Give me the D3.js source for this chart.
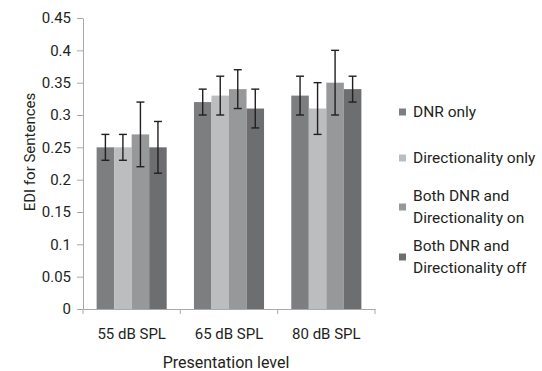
<!DOCTYPE html>
<html><head><meta charset="utf-8">
<script src="https://cdn.jsdelivr.net/npm/d3@7"></script>
<style>body{margin:0;background:#fff}svg{display:block}text{font-family:Roboto,"Liberation Sans",sans-serif;fill:#231f20}</style>
</head><body><svg id="c" width="542" height="371"></svg>
<script>
const categories = ["55 dB SPL", "65 dB SPL", "80 dB SPL"];
const seriesNames = ["DNR only", "Directionality only", "Both DNR and Directionality on", "Both DNR and Directionality off"];
const legendLines = [["DNR only"], ["Directionality only"], ["Both DNR and", "Directionality on"], ["Both DNR and", "Directionality off"]];
const dnrOnly = [0.25, 0.32, 0.33];
const dirOnly = [0.25, 0.33, 0.31];
const bothOn = [0.27, 0.34, 0.35];
const bothOff = [0.25, 0.31, 0.34];
const errDnrOnly = [0.02, 0.02, 0.03];
const errDirOnly = [0.02, 0.03, 0.04];
const errBothOn = [0.05, 0.03, 0.05];
const errBothOff = [0.04, 0.03, 0.02];
const yTicks = [0, 0.05, 0.1, 0.15, 0.2, 0.25, 0.3, 0.35, 0.4, 0.45];
const colors = ["#7d7e80", "#bcbdbf", "#97989a", "#6d6e70"];

const values = [dnrOnly, dirOnly, bothOn, bothOff];
const errs = [errDnrOnly, errDirOnly, errBothOn, errBothOff];

const svg = d3.select("#c");
const L = 83, R = 375, T = 18, B = 309;
const x0 = d3.scaleBand().domain(categories).range([L, R]).paddingInner(0.28).paddingOuter(0.14);
const x1 = d3.scaleBand().domain(d3.range(4)).range([0, x0.bandwidth()]);
const y = d3.scaleLinear().domain([0, 0.45]).range([B, T]);

const data = [];
categories.forEach((c, i) => values.forEach((s, j) => data.push({c, j, v: s[i], e: errs[j][i]})));

svg.append("g").selectAll("rect").data(data).join("rect")
  .attr("x", d => x0(d.c) + x1(d.j)).attr("width", x1.bandwidth())
  .attr("y", d => y(d.v)).attr("height", d => y(0) - y(d.v))
  .attr("fill", d => colors[d.j]);

const eg = svg.append("g").attr("stroke", "#231f20").attr("stroke-width", 1.4);
data.forEach(d => {
  const cx = x0(d.c) + x1(d.j) + x1.bandwidth() / 2;
  eg.append("line").attr("x1", cx).attr("x2", cx).attr("y1", y(d.v + d.e)).attr("y2", y(d.v - d.e));
  eg.append("line").attr("x1", cx - 4).attr("x2", cx + 4).attr("y1", y(d.v + d.e)).attr("y2", y(d.v + d.e));
  eg.append("line").attr("x1", cx - 4).attr("x2", cx + 4).attr("y1", y(d.v - d.e)).attr("y2", y(d.v - d.e));
});

// y axis
const ya = svg.append("g").attr("transform", `translate(${L},0)`)
  .call(d3.axisLeft(y).tickValues(yTicks).tickFormat(d => String(d)).tickSize(6).tickSizeOuter(0));
ya.select(".domain").attr("stroke", "#a7a9ac");
ya.selectAll(".tick line").attr("stroke", "#a7a9ac");
ya.selectAll(".tick text").attr("font-size", 15).attr("x", -12).attr("fill", "#231f20")
  .style("font-family", "Roboto,sans-serif");

// x axis
const xa = svg.append("g").attr("transform", `translate(0,${B})`)
  .call(d3.axisBottom(x0).tickSize(0).tickSizeOuter(0));
xa.select(".domain").attr("stroke", "#a7a9ac");
xa.selectAll(".tick text").attr("font-size", 15).attr("dy", "0.71em").attr("y", 19).attr("fill", "#231f20")
  .style("font-family", "Roboto,sans-serif");
const bounds = [L].concat(categories.map(c => x0(c) + x0.bandwidth() + x0.step() * x0.paddingInner() / 2));
bounds[bounds.length - 1] = R;
svg.append("g").selectAll("line").data(bounds).join("line")
  .attr("x1", d => d).attr("x2", d => d).attr("y1", B).attr("y2", B + 5).attr("stroke", "#a7a9ac");

svg.append("text").attr("x", (L + R) / 2 - 3).attr("y", 368).attr("text-anchor", "middle")
  .attr("font-size", 16).text("Presentation level");
svg.append("text").attr("transform", "translate(35,152) rotate(-90)").attr("text-anchor", "middle")
  .attr("font-size", 15).text("EDI for Sentences");

// legend
const legY = [112, 158, 207, 257];
const lg = svg.append("g");
seriesNames.forEach((n, j) => {
  lg.append("rect").attr("x", 399).attr("y", legY[j] - 3.5).attr("width", 7).attr("height", 7).attr("fill", colors[j]);
  const lines = legendLines[j];
  lines.forEach((t, k) => {
    lg.append("text").attr("x", 413).attr("y", legY[j] + (k - (lines.length - 1) / 2) * 22).attr("dy", "0.35em")
      .attr("font-size", 15.5).text(t);
  });
});
</script></body></html>
